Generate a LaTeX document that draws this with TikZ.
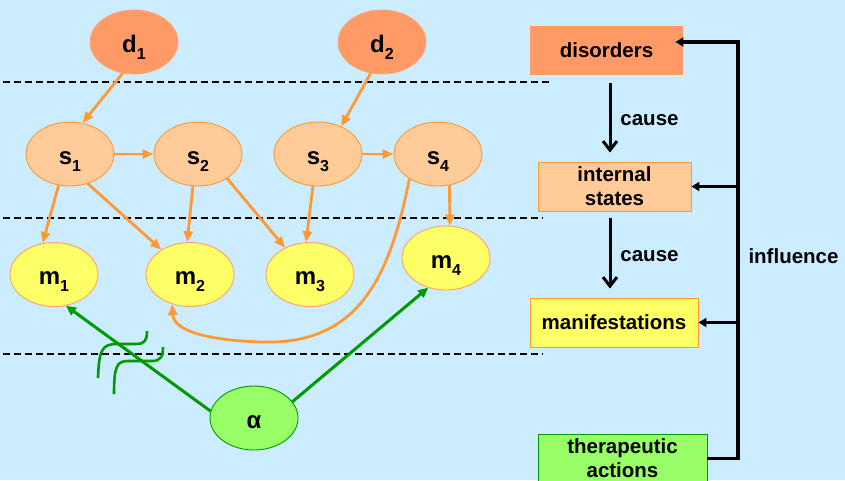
\documentclass[tikz,border=0pt]{standalone}
\usepackage{fontspec}
\setmainfont{Liberation Sans}
\usetikzlibrary{shapes.geometric,arrows.meta}

\definecolor{bgblue}{RGB}{204,236,255}
\definecolor{dfill}{RGB}{255,153,102}
\definecolor{sfill}{RGB}{255,204,153}
\definecolor{mfill}{RGB}{255,255,102}
\definecolor{afill}{RGB}{153,255,102}
\definecolor{orangeline}{RGB}{255,153,51}
\definecolor{mborder}{RGB}{255,160,110}
\definecolor{greenline}{RGB}{0,153,0}

\newcommand{\lowidx}[1]{\raisebox{-7pt}{\fontsize{16}{16}\selectfont #1}}

\tikzset{
  var/.style={ellipse, minimum width=88pt, minimum height=64pt, inner sep=0pt,
    line width=0.9pt, font=\fontsize{24}{24}\selectfont\bfseries,
    text height=20pt, text depth=0pt},
  dnode/.style={var, fill=dfill, draw=dfill!85!white},
  snode/.style={var, fill=sfill, draw=orangeline},
  mnode/.style={var, fill=mfill, draw=mborder},
  anode/.style={var, fill=afill, draw=greenline},
  box/.style={rectangle, minimum height=49pt, inner sep=0pt, align=center,
    line width=0.9pt, font=\fontsize{20.5}{24}\selectfont\bfseries},
  lbl/.style={font=\fontsize{20.5}{24}\selectfont\bfseries, inner sep=0pt},
  divider/.style={black, line width=1.1pt, dash pattern=on 7pt off 4pt},
  causal/.style={orangeline, line width=2.8pt, -{Triangle[length=11pt,width=9pt]}},
  treat/.style={greenline, line width=3pt, -{Triangle[length=10pt,width=9pt]}},
  cut/.style={greenline, line width=2.6pt},
  causearrow/.style={black, line width=3pt, -{Straight Barb[length=9pt,width=14pt]}},
  infl/.style={black, line width=3.2pt, -{Triangle[length=8pt,width=9pt]}},
}

\begin{document}
\begin{tikzpicture}[x=1pt, y=-1pt]
  % canvas
  \fill[bgblue] (0,0) rectangle (845,480);
  \useasboundingbox (0,0) rectangle (845,480);

  % layer separators
  \coordinate (l1a) at (3,82);  \coordinate (l1b) at (550,82);
  \coordinate (l2a) at (3,218); \coordinate (l2b) at (543,218);
  \coordinate (l3a) at (3,354); \coordinate (l3b) at (543,354);
  \draw[divider] (l1a) -- (l1b);
  \draw[divider] (l2a) -- (l2b);
  \draw[divider] (l3a) -- (l3b);

  % disorders
  \node[dnode] (d1) at (134,42) {d\lowidx{1}};
  \node[dnode] (d2) at (382,42) {d\lowidx{2}};
  % internal states
  \node[snode] (s1) at (70,154)  {s\lowidx{1}};
  \node[snode] (s2) at (198,154) {s\lowidx{2}};
  \node[snode] (s3) at (318,154) {s\lowidx{3}};
  \node[snode] (s4) at (438,154) {s\lowidx{4}};
  % manifestations
  \node[mnode] (m1) at (54,274.5)  {m\lowidx{1}};
  \node[mnode] (m2) at (190,274.5) {m\lowidx{2}};
  \node[mnode] (m3) at (310,274.5) {m\lowidx{3}};
  \node[mnode] (m4) at (446,258)   {m\lowidx{4}};
  % therapeutic action
  \node[anode] (al) at (254,418) {α};

  % causal links
  \draw[causal] (d1.250) -- (s1.68);
  \draw[causal] (d2.250) -- (s3.50);
  \draw[causal] (s1.east) -- (s2.west);
  \draw[causal] (s3.east) -- (s4.west);
  \draw[causal] (s1.250) -- (m1.110);
  \draw[causal] (s1.301) -- (m2.139);
  \draw[causal] (s2.261) -- (m2.95);
  \draw[causal] (s2.320) -- (m3.133);
  \draw[causal] (s3.261) -- (m3.97);
  \draw[causal] (s4.290) -- (m4.83);
  \coordinate (loopbot) at (262,342);
  \draw[causal] (s4.221) .. controls (390,275) and (360,345) .. (loopbot)
                         .. controls (225,341) and (174,335) .. (m2.239);

  % cut marks on the treatment link
  \draw[cut] (98,378) .. controls (99,350) and (102,344) .. (117,344) -- (136,344)
             .. controls (145,344) and (147,340) .. (147,331);
  \draw[cut] (114,394) .. controls (114,366) and (117,361) .. (128,361) -- (152,361)
             .. controls (161,361) and (163,356) .. (163,347);

  % treatment links
  \draw[treat] (al.171) -- (m1.291.5);
  \draw[treat] (al.23) -- (m4.239);

  % legend boxes
  \node[box, fill=dfill, minimum width=153pt] (dis) at (606.5,50.5) {disorders};
  \node[box, fill=sfill, draw=orangeline, minimum width=153pt] (ist) at (614.5,186.5) {internal\\states};
  \node[box, fill=mfill, draw=orangeline, minimum width=168pt] (man) at (614,322.5) {manifestations};
  \node[box, fill=afill, draw=greenline, minimum width=169pt] (ther) at (622.5,458.5) {therapeutic\\actions};

  % cause arrows
  \coordinate (cx) at (610,0);
  \draw[causearrow, shorten <=8pt, shorten >=9pt] (dis.south -| cx) -- (ist.north -| cx);
  \draw[causearrow, shorten <=7pt, shorten >=9pt] (ist.south -| cx) -- (man.north -| cx);
  \node[lbl] (c1) at (649.5,120) {cause};
  \node[lbl] (c2) at (649.5,256) {cause};

  % influence bus
  \coordinate (bt) at (738,42);
  \draw[infl, line join=miter] (ther.east) -| (bt) -- ([xshift=-8pt]dis.east |- bt);
  \draw[infl] (ist.east -| bt) -- (ist.east);
  \draw[infl] (man.east -| bt) -- (man.east);
  \node[lbl] (inf) at (793.5,256) {influence};
\end{tikzpicture}
\end{document}
